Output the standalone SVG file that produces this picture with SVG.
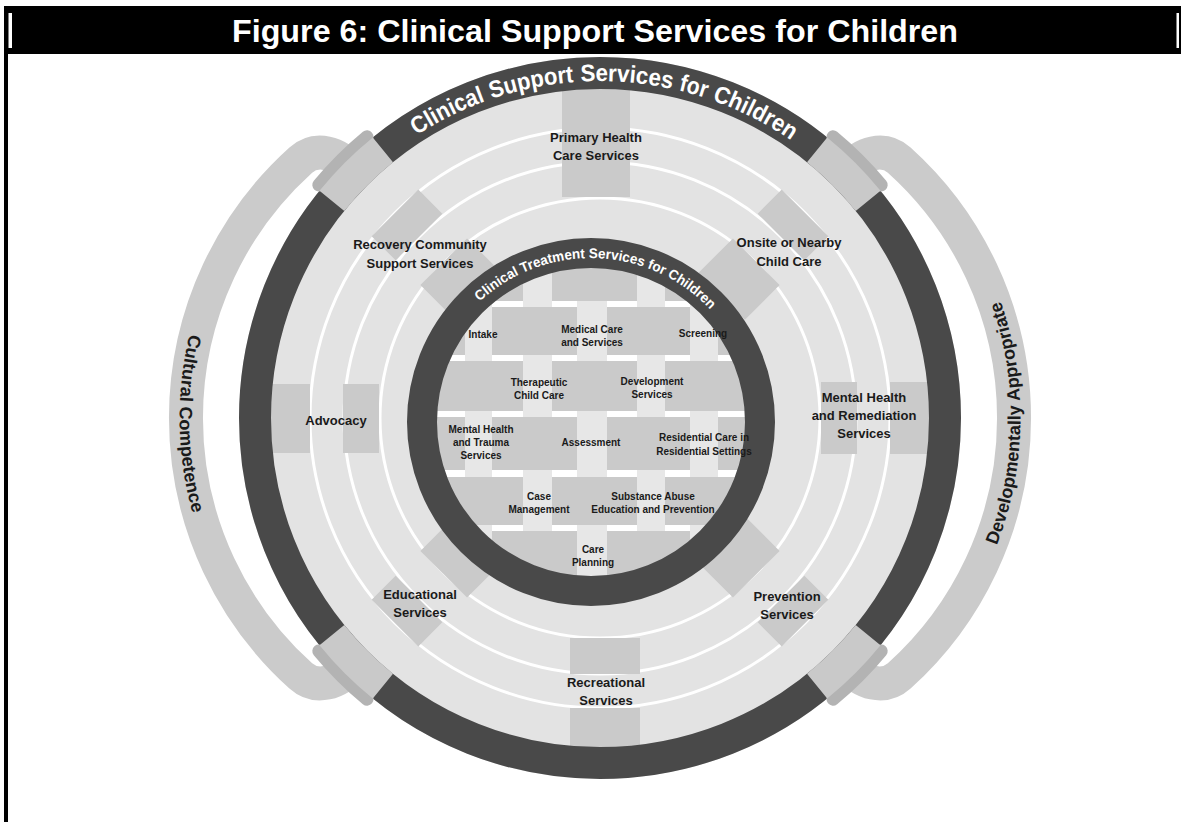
<svg xmlns="http://www.w3.org/2000/svg" width="1181" height="822" viewBox="0 0 1181 822">
<defs>
<style>
.lbl{font-family:"Liberation Sans",Arial,sans-serif;font-weight:bold;font-size:13px;fill:#1a1a1a;text-anchor:middle}
.in{font-family:"Liberation Sans",Arial,sans-serif;font-weight:bold;font-size:10px;fill:#1a1a1a;text-anchor:middle}
.bandtxt{font-family:"Liberation Sans",Arial,sans-serif;font-weight:bold;font-size:18px;fill:#1a1a1a}
.arctxt{font-family:"Liberation Sans",Arial,sans-serif;font-weight:bold;fill:#ffffff}
.band{fill:none;stroke:#cbcbcb;stroke-width:34}
.box{fill:#cacaca}
.conn{fill:#c9c9c9}
.cres{fill:none;stroke:#b3b3b3;stroke-width:13;stroke-linecap:round}
.lt{fill:#e7e7e7}
.gr{fill:#cacaca}
.wl{fill:none;stroke:#ffffff;stroke-width:3}
.dark{fill:none;stroke:#494949}
</style>
<clipPath id="innerClip"><circle cx="591" cy="422" r="155"/></clipPath>
<path id="outerArc" d="M 263 418 A 337 337 0 0 1 937 418"/>
<path id="innerArc" d="M 427 422 A 164 164 0 0 1 755 422"/>
<path id="leftArc" d="M 226.9 241.25 A 353.5 353.5 0 0 0 226.9 594.75"/>
<path id="rightArc" d="M 973.1 594.75 A 353.5 353.5 0 0 0 973.1 241.25"/>
</defs>
<rect x="0" y="0" width="1181" height="822" fill="#ffffff"/>

<g id="title">
<rect x="4" y="6" width="1177" height="48" fill="#000000"/>
<rect x="8.5" y="13" width="3.5" height="35" fill="#ffffff"/>
<rect x="1176.5" y="13" width="2.5" height="35" fill="#ffffff"/>
<rect x="4" y="54" width="4" height="768" fill="#000000"/>
<text x="595" y="42" font-family="'Liberation Sans',Arial,sans-serif" font-weight="bold" font-size="32" fill="#ffffff" text-anchor="middle" textLength="726" lengthAdjust="spacingAndGlyphs">Figure 6: Clinical Support Services for Children</text>
</g>

<g id="cultural-competence">
<path class="band" d="M 352 170 C 338 152 315.7 146.7 300.8 160.1 A 347 347 0 0 0 300.8 675.9 C 315.7 689.3 338 684 352 666"/>
<text class="bandtxt"><textPath href="#leftArc" startOffset="51.6%" text-anchor="middle">Cultural Competence</textPath></text>
</g>

<g id="developmentally-appropriate">
<path class="band" d="M 848 170 C 862 152 884.3 146.7 899.2 160.1 A 347 347 0 0 1 899.2 675.9 C 884.3 689.3 862 684 848 666"/>
<text class="bandtxt"><textPath href="#rightArc" startOffset="48.5%" text-anchor="middle">Developmentally Appropriate</textPath></text>
</g>

<g id="support-field">
<circle cx="600" cy="418" r="361" fill="#e3e3e3"/>
<circle class="wl" cx="600" cy="418" r="290"/>
<circle class="wl" cx="600" cy="418" r="256"/>
<circle class="wl" cx="600" cy="418" r="220"/>
</g>

<g id="primary-health">
<rect class="box" x="562" y="85" width="68" height="112"/>
<text class="lbl" x="596" y="142">Primary Health</text>
<text class="lbl" x="596" y="160">Care Services</text>
</g>

<g id="recovery-community">
<rect class="box" x="-33" y="-290" width="66" height="34" transform="translate(600 418) rotate(-45)"/>
<rect class="box" x="-33" y="-221" width="66" height="49" transform="translate(600 418) rotate(-45)"/>
<text class="lbl" x="420" y="249">Recovery Community</text>
<text class="lbl" x="420" y="268">Support Services</text>
</g>

<g id="onsite-child-care">
<rect class="box" x="-33" y="-290" width="66" height="34" transform="translate(600 418) rotate(45)"/>
<rect class="box" x="-33" y="-221" width="66" height="49" transform="translate(600 418) rotate(45)"/>
<text class="lbl" x="789" y="247">Onsite or Nearby</text>
<text class="lbl" x="789" y="266">Child Care</text>
</g>

<g id="advocacy">
<rect class="box" x="266" y="384" width="44" height="69"/>
<rect class="box" x="343" y="384" width="36" height="69"/>
<text class="lbl" x="336" y="425">Advocacy</text>
</g>

<g id="mental-health-remediation">
<rect class="box" x="890" y="382" width="44" height="72"/>
<rect class="box" x="821" y="382" width="36" height="72"/>
<text class="lbl" x="864" y="402">Mental Health</text>
<text class="lbl" x="864" y="420">and Remediation</text>
<text class="lbl" x="864" y="438">Services</text>
</g>

<g id="educational">
<rect class="box" x="-33" y="-290" width="66" height="34" transform="translate(600 418) rotate(225)"/>
<rect class="box" x="-33" y="-221" width="66" height="49" transform="translate(600 418) rotate(225)"/>
<text class="lbl" x="420" y="599">Educational</text>
<text class="lbl" x="420" y="617">Services</text>
</g>

<g id="prevention">
<rect class="box" x="-33" y="-290" width="66" height="34" transform="translate(600 418) rotate(135)"/>
<rect class="box" x="-33" y="-221" width="66" height="49" transform="translate(600 418) rotate(135)"/>
<text class="lbl" x="787" y="601">Prevention</text>
<text class="lbl" x="787" y="619">Services</text>
</g>

<g id="recreational">
<rect class="box" x="570" y="638" width="70" height="36"/>
<rect class="box" x="570" y="708" width="70" height="44"/>
<text class="lbl" x="606" y="687">Recreational</text>
<text class="lbl" x="606" y="705">Services</text>
</g>

<g id="clinical-support-ring">
<circle class="dark" cx="600" cy="418" r="345" stroke-width="32"/>
<text class="arctxt" font-size="24"><textPath href="#outerArc" startOffset="373.6" text-anchor="middle" textLength="77" lengthAdjust="spacingAndGlyphs">Clinical</textPath></text>
<text class="arctxt" font-size="24"><textPath href="#outerArc" startOffset="460.9" text-anchor="middle" textLength="84" lengthAdjust="spacingAndGlyphs">Support</textPath></text>
<text class="arctxt" font-size="24"><textPath href="#outerArc" startOffset="555.6" text-anchor="middle" textLength="92" lengthAdjust="spacingAndGlyphs">Services</textPath></text>
<text class="arctxt" font-size="24"><textPath href="#outerArc" startOffset="622.3" text-anchor="middle" textLength="28" lengthAdjust="spacingAndGlyphs">for</textPath></text>
<text class="arctxt" font-size="24"><textPath href="#outerArc" startOffset="687.7" text-anchor="middle" textLength="89" lengthAdjust="spacingAndGlyphs">Children</textPath></text>
</g>

<g id="connectors">
<path class="cres" d="M 318.8 185.0 A 366 366 0 0 1 367.0 136.8"/>
<path class="cres" d="M 367.0 699.2 A 366 366 0 0 1 318.8 651.0"/>
<path class="cres" d="M 881.2 185.0 A 366 366 0 0 0 833.0 136.8"/>
<path class="cres" d="M 833.0 699.2 A 366 366 0 0 0 881.2 651.0"/>
<path class="conn" d="M 319.5 190.8 A 361 361 0 0 1 372.8 137.5 L 393.0 162.3 A 329 329 0 0 0 344.3 211.0 Z"/>
<path class="conn" d="M 372.8 698.5 A 361 361 0 0 1 319.5 645.2 L 344.3 625.0 A 329 329 0 0 0 393.0 673.7 Z"/>
<path class="conn" d="M 880.5 190.8 A 361 361 0 0 0 827.2 137.5 L 807.0 162.3 A 329 329 0 0 1 855.7 211.0 Z"/>
<path class="conn" d="M 827.2 698.5 A 361 361 0 0 0 880.5 645.2 L 855.7 625.0 A 329 329 0 0 1 807.0 673.7 Z"/>
</g>

<g id="treatment-grid" clip-path="url(#innerClip)">
<rect x="430" y="260" width="330" height="330" fill="#ffffff"/>
<rect class="lt" x="465" y="260" width="27" height="330"/>
<rect class="lt" x="523" y="260" width="29" height="330"/>
<rect class="lt" x="577" y="260" width="30" height="330"/>
<rect class="lt" x="637" y="260" width="28" height="330"/>
<rect class="lt" x="690" y="260" width="28" height="330"/>
<rect class="gr" x="430" y="260" width="330" height="41"/>
<rect class="gr" x="430" y="361" width="330" height="50"/>
<rect class="gr" x="430" y="477" width="330" height="48"/>
<rect class="lt" x="523" y="260" width="29" height="41"/>
<rect class="lt" x="637" y="260" width="28" height="41"/>
<rect class="lt" x="523" y="361" width="29" height="50"/>
<rect class="lt" x="637" y="361" width="28" height="50"/>
<rect class="lt" x="523" y="477" width="29" height="48"/>
<rect class="lt" x="637" y="477" width="28" height="48"/>
<rect class="gr" x="430" y="307" width="330" height="48"/>
<rect class="gr" x="430" y="417" width="330" height="53"/>
<rect class="gr" x="430" y="531" width="330" height="59"/>
<rect class="lt" x="465" y="307" width="27" height="48"/>
<rect class="lt" x="577" y="307" width="30" height="48"/>
<rect class="lt" x="690" y="307" width="28" height="48"/>
<rect class="lt" x="465" y="417" width="27" height="53"/>
<rect class="lt" x="577" y="417" width="30" height="53"/>
<rect class="lt" x="690" y="417" width="28" height="53"/>
<rect class="lt" x="465" y="531" width="27" height="59"/>
<rect class="lt" x="577" y="531" width="30" height="59"/>
<rect class="lt" x="690" y="531" width="28" height="59"/>
</g>

<g id="clinical-treatment-ring">
<circle class="dark" cx="591" cy="422" r="169" stroke-width="30"/>
<text class="arctxt" font-size="14"><textPath href="#innerArc" startOffset="51.1%" text-anchor="middle" textLength="256" lengthAdjust="spacingAndGlyphs">Clinical Treatment Services for Children</textPath></text>
</g>

<g id="intake"><text class="in" x="483" y="338">Intake</text></g>
<g id="medical-care"><text class="in" x="592" y="333">Medical Care</text><text class="in" x="592" y="346">and Services</text></g>
<g id="screening"><text class="in" x="703" y="337">Screening</text></g>
<g id="therapeutic-child-care"><text class="in" x="539" y="386">Therapeutic</text><text class="in" x="539" y="399">Child Care</text></g>
<g id="development-services"><text class="in" x="652" y="385">Development</text><text class="in" x="652" y="398">Services</text></g>
<g id="mental-health-trauma"><text class="in" x="481" y="433">Mental Health</text><text class="in" x="481" y="446">and Trauma</text><text class="in" x="481" y="459">Services</text></g>
<g id="assessment"><text class="in" x="591" y="446">Assessment</text></g>
<g id="residential-care"><text class="in" x="704" y="441">Residential Care in</text><text class="in" x="704" y="455">Residential Settings</text></g>
<g id="case-management"><text class="in" x="539" y="500">Case</text><text class="in" x="539" y="513">Management</text></g>
<g id="substance-abuse"><text class="in" x="653" y="500">Substance Abuse</text><text class="in" x="653" y="513">Education and Prevention</text></g>
<g id="care-planning"><text class="in" x="593" y="553">Care</text><text class="in" x="593" y="566">Planning</text></g>
</svg>
